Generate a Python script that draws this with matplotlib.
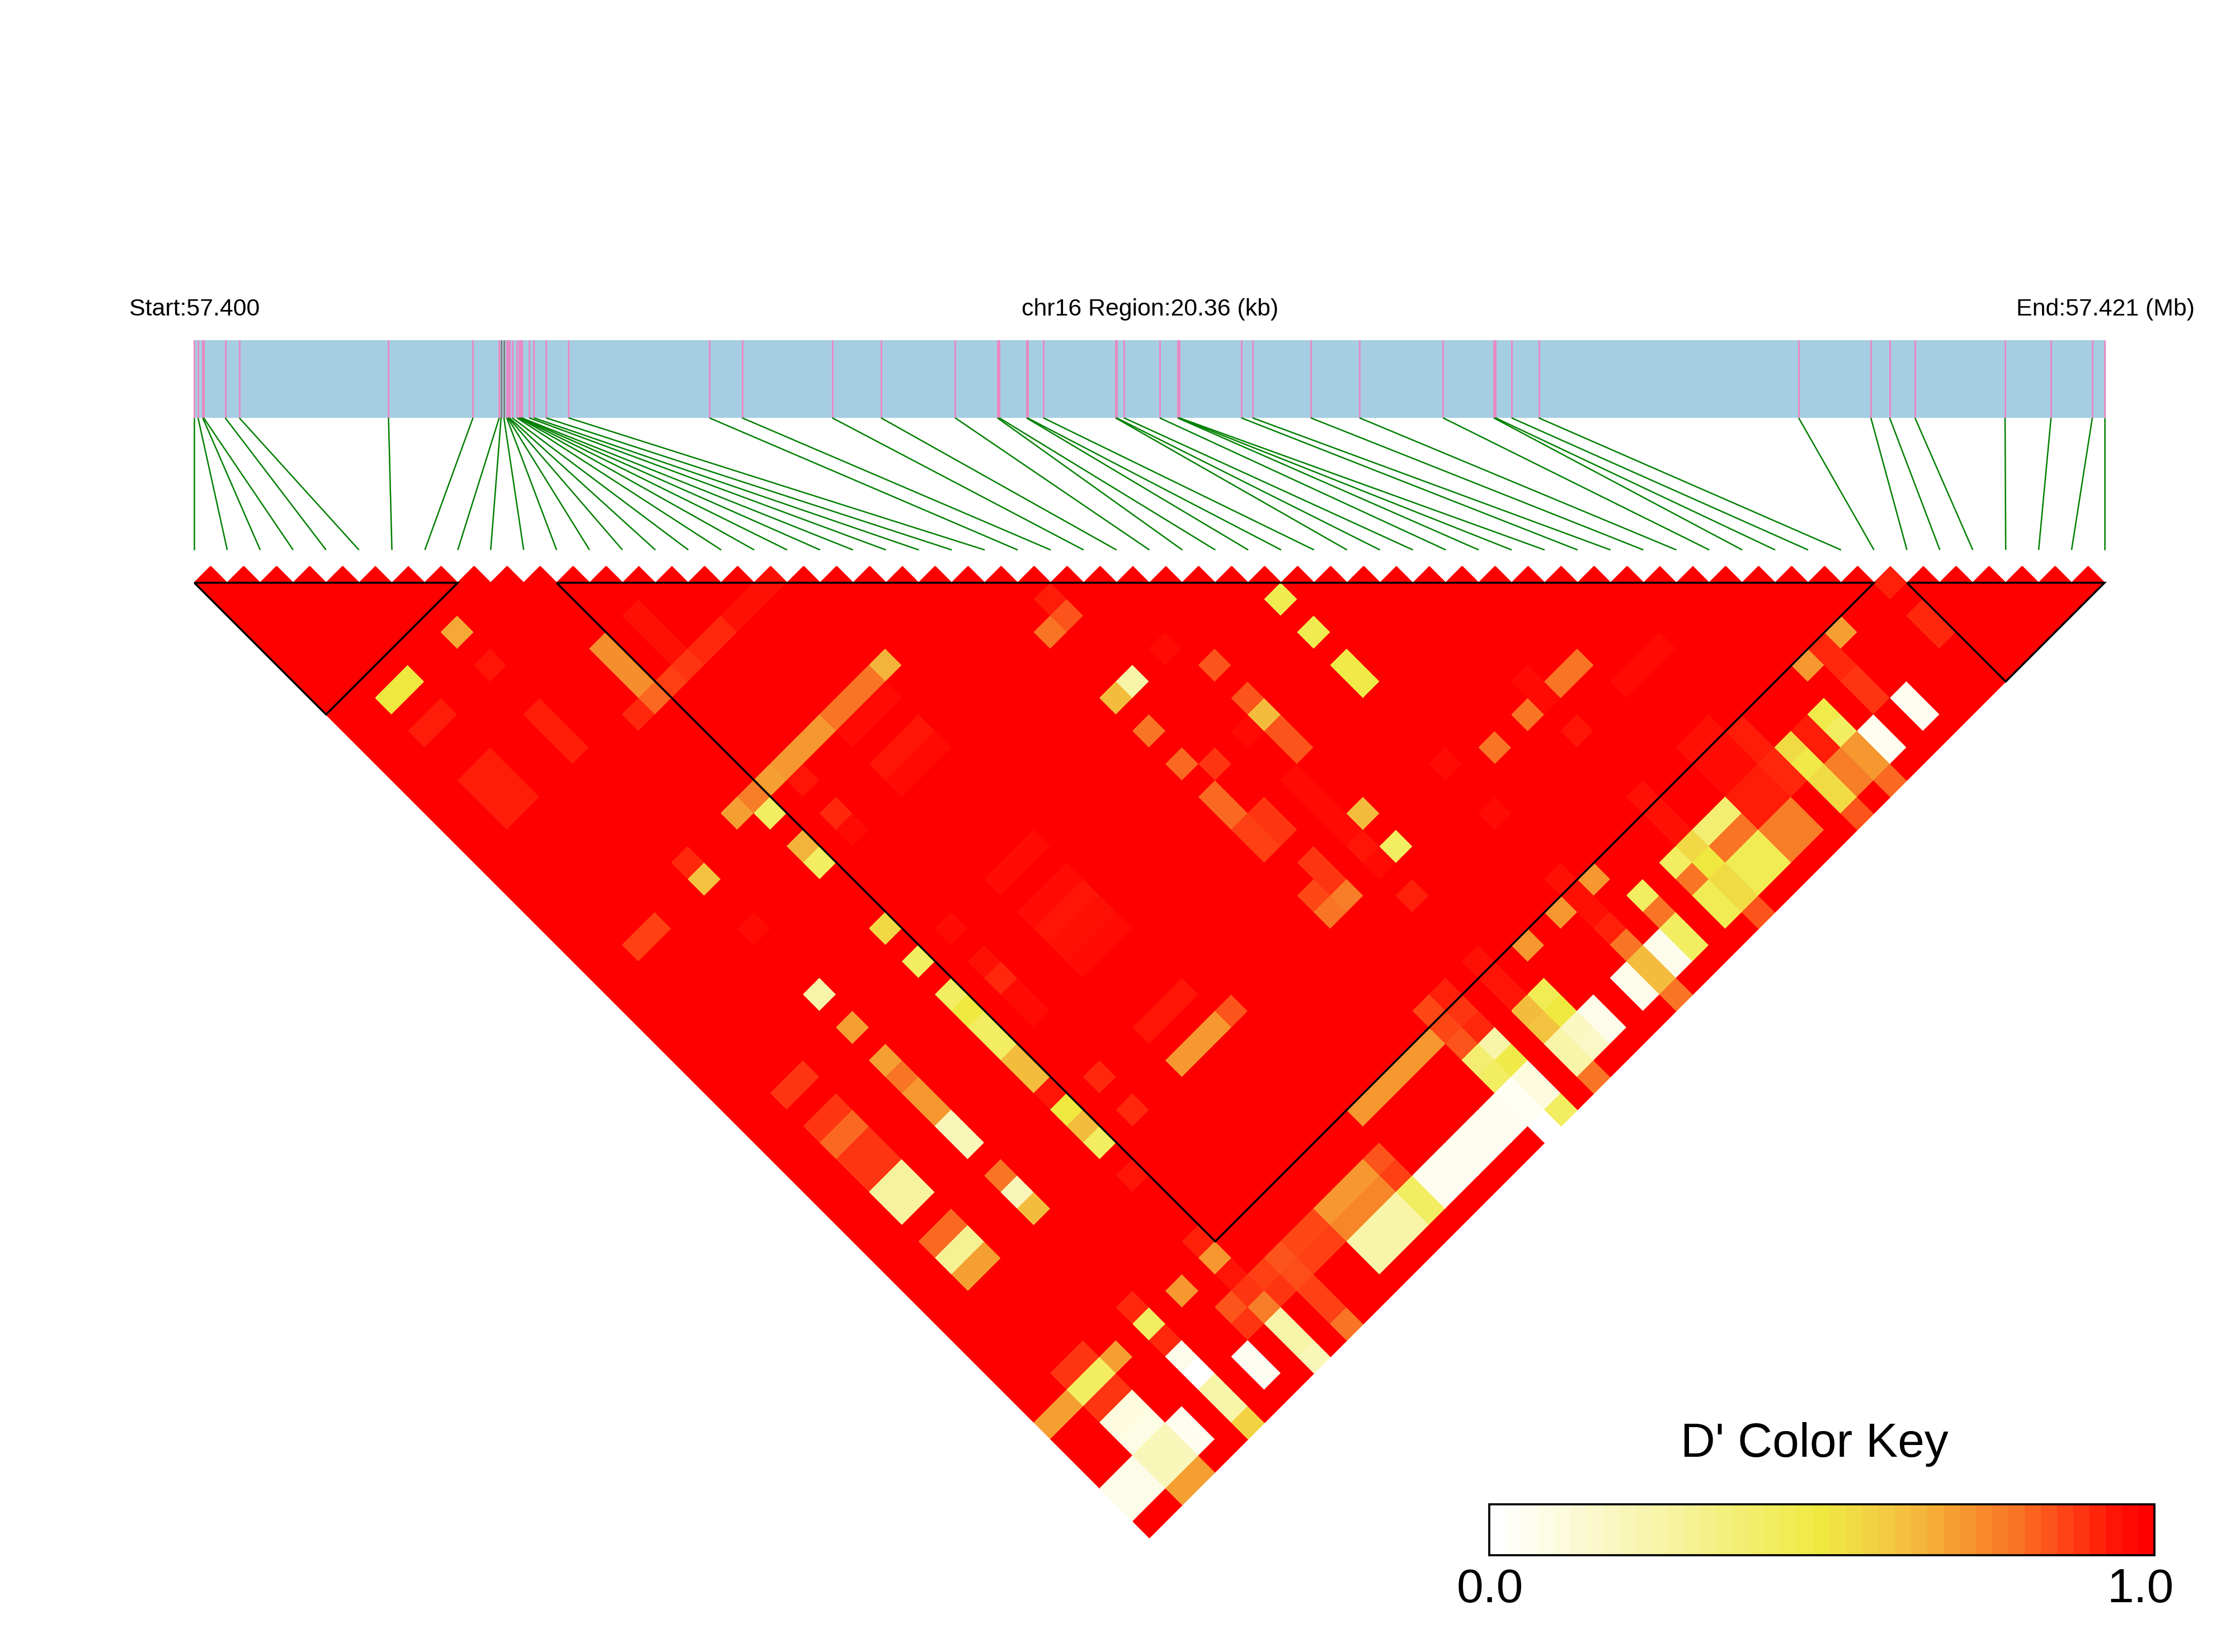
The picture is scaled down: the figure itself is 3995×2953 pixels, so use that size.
import numpy as np
import matplotlib
matplotlib.use("Agg")
import matplotlib.pyplot as plt
from matplotlib.collections import PolyCollection, LineCollection
from matplotlib.colors import LinearSegmentedColormap, ListedColormap
from matplotlib.patches import Rectangle

plt.rcParams['font.family'] = ['Liberation Sans', 'DejaVu Sans']

# SNP positions, kb from the region start
snp_kb = [0, 0.04, 0.09, 0.10, 0.33, 0.48, 2.07, 2.97, 3.25, 3.27, 3.30, 3.33, 3.34, 3.35, 3.36,
          3.39, 3.44, 3.46, 3.47, 3.48, 3.49, 3.57, 3.62, 3.75, 3.99, 5.49, 5.84, 6.80, 7.32, 8.11,
          8.56, 8.58, 8.87, 8.88, 9.05, 9.82, 9.83, 9.91, 10.29, 10.48, 10.49, 10.50, 11.16, 11.28,
          11.90, 12.42, 13.31, 13.85, 13.87, 14.04, 14.33, 17.10, 17.87, 18.07, 18.34, 19.30, 19.79,
          20.23, 20.36]
grey_snps = [9, 10]
ld_blocks = [(0, 8), (11, 51), (52, 58)]

# D' below 1: row index, then columns and values for that row
row_index = [0, 1, 2, 3, 4, 6, 8, 9, 10, 11, 12, 13, 14, 15, 16, 17, 18, 19, 20, 21, 22, 23, 24, 25, 27,
             28, 29, 31, 32, 33, 34, 36, 37, 38, 39, 40, 41, 42, 43, 44, 45, 46, 47, 48, 51]
row_cols = [
    [52, 56, 57],
    [52, 56, 57],
    [10, 12, 15, 16, 17, 25, 34, 36, 37, 38, 39, 40, 41, 43, 44, 45, 51, 52, 53, 54, 55, 56, 57, 58],
    [10, 12, 15, 16, 17, 25, 34, 36, 37, 38, 39, 40, 41, 43, 44, 45, 51, 52, 53, 54, 55, 56, 57, 58],
    [52, 56, 57],
    [10, 12, 15, 16, 17, 24, 25, 28, 32, 34, 36, 37, 38, 39, 40, 41, 43, 44, 45, 51, 52, 53, 54, 55, 56, 57, 58],
    [52, 56, 57],
    [18, 24, 54, 55],
    [15, 16, 17, 18, 24, 25, 27, 28, 32, 34, 36, 37, 38, 39, 40, 41, 42, 43, 44, 45, 47, 51, 52, 53, 54, 55, 56, 57, 58],
    [18, 24, 54, 55],
    [15, 16, 17, 18, 24, 25, 27, 28, 34, 36, 37, 38, 39, 43, 45, 54, 55, 56, 57, 58],
    [18, 24, 54, 55],
    [18, 24, 54, 55],
    [18, 24, 25, 27, 28, 34, 36, 37, 38, 39, 43, 45, 54, 55, 56, 57],
    [18, 24, 25, 27, 28, 34, 36, 37, 38, 39, 43, 45, 54, 55, 56, 57],
    [18, 24, 25, 27, 28, 34, 36, 37, 38, 39, 43, 45, 54, 55, 56, 57],
    [24, 45, 54, 55, 56, 57],
    [52, 56, 57],
    [52, 56, 57],
    [52, 56, 57],
    [52, 56, 57],
    [52, 56, 57],
    [28, 32, 34, 36, 38, 39, 40, 41, 44, 45, 51, 52, 53, 54, 55, 56, 57, 58],
    [27, 28, 32, 37, 40, 41, 43, 44, 45, 51, 52, 53, 54, 55, 56, 57, 58],
    [32, 37, 40, 41, 42, 43, 44, 45, 47, 51, 52, 53, 54, 55, 56, 57, 58],
    [34, 36, 37, 38, 39, 43, 45, 54, 55, 56, 57],
    [52, 56, 57],
    [52, 56, 57],
    [34, 36, 38, 39, 44, 47, 51, 52, 53, 54, 55, 56, 57, 58],
    [52, 56, 57],
    [45, 54, 55, 56, 57],
    [45, 54, 55, 56, 57],
    [44, 45, 47, 51, 52, 53, 54, 55, 56, 57, 58],
    [45, 54, 55, 56, 57],
    [45, 54, 55, 56, 57],
    [47, 51, 52, 53, 54, 55, 56, 57],
    [47, 51, 52, 53, 54, 55, 56, 57],
    [47, 52, 53, 54, 55],
    [54, 55, 56, 57, 58],
    [54, 55, 56, 57],
    [54, 55, 56, 57, 58],
    [52, 56, 57],
    [52, 53, 54, 55],
    [52, 56, 57],
    [52, 54, 55],
]
row_vals = [
    [.70, .07, .07],
    [.70, .07, .07],
    [.50, .94, .94, .94, .94, .88, .90, .90, .82, .90, .90, .28, .28, .82, .30, .70, .90, .42, .90, .10, .08, .20, .20, .70],
    [.50, .94, .94, .94, .94, .88, .90, .90, .82, .90, .90, .28, .28, .82, .30, .70, .90, .42, .90, .10, .08, .20, .20, .70],
    [.70, .05, .05],
    [.68, .95, .94, .94, .94, .92, .62, .97, .25, .70, .70, .80, .72, .72, .20, .20, .80, .20, .64, .92, .42, .92, .06, .00, .25, .25, .58],
    [.72, .04, .04],
    [.92, .70, .85, .90],
    [.74, .74, .74, .82, .78, .42, .66, .42, .56, .42, .42, .50, .42, .42, .64, .64, .95, .50, .64, .42, .95, .93, .72, .95, .90, .78, .25, .25, .20],
    [.88, .70, .88, .90],
    [.96, .96, .96, .90, .72, .95, .92, .97, .97, .96, .92, .97, .97, .92, .92, .85, .86, .88, .88, .80],
    [.92, .72, .87, .88],
    [.92, .72, .87, .88],
    [.96, .80, .97, .95, .97, .97, .97, .95, .96, .97, .95, .72, .72, .76, .25, .25],
    [.96, .80, .97, .95, .97, .97, .97, .95, .96, .97, .95, .72, .72, .76, .25, .25],
    [.96, .80, .97, .95, .97, .97, .97, .95, .96, .97, .95, .72, .72, .76, .25, .25],
    [.66, .85, .85, .88, .42, .42],
    [.72, .05, .05],
    [.72, .05, .05],
    [.72, .05, .05],
    [.72, .05, .05],
    [.72, .05, .05],
    [.80, .64, .80, .82, .82, .82, .88, .88, .87, .80, .87, .87, .85, .38, .42, .03, .03, .00],
    [.94, .85, .25, .90, .90, .90, .90, .90, .78, .93, .90, .92, .25, .48, .10, .10, .42],
    [.97, .97, .97, .97, .97, .97, .95, .97, .93, .96, .95, .95, .64, .62, .25, .25, .80],
    [.85, .85, .64, .85, .85, .64, .42, .45, .50, .18, .16],
    [.72, .06, .06],
    [.72, .06, .06],
    [.46, .46, .48, .48, .97, .97, .96, .96, .96, .93, .80, .64, .64, .80],
    [.72, .06, .06],
    [.80, .42, .80, .42, .42],
    [.80, .42, .80, .45, .45],
    [.97, .97, .95, .96, .96, .96, .56, .50, .55, .55, .85],
    [.80, .38, .80, .45, .45],
    [.80, .38, .80, .45, .45],
    [.97, .96, .97, .97, .94, .94, .78, .78],
    [.97, .96, .97, .97, .94, .94, .78, .78],
    [.97, .94, .94, .92, .92],
    [.55, .48, .55, .55, .85],
    [.94, .94, .78, .78],
    [.47, .42, .72, .72, .82],
    [.72, .05, .05],
    [.92, .92, .90, .90],
    [.70, .05, .05],
    [.93, .92, .92],
]

key_stops = [0, .25, .50, .56, .64, .70, .80, .90, .96, 1.0]
key_cols = ['#FFFFFF', '#F8F4A8', '#EFE93F', '#F2D845', '#F4BC3D', '#F5A033', '#F97525', '#FF3510', '#FF1005', '#FF0000']
key_levels = 41

W, H = 3995, 2953
fig = plt.figure(figsize=(W / 300, H / 300), dpi=300, facecolor='white')
ax = fig.add_axes([0, 0, 1, 1])
ax.set_xlim(0, W)
ax.set_ylim(H, 0)
ax.axis('off')

ramp = LinearSegmentedColormap.from_list('ld', list(zip(key_stops, key_cols)))
cmap = ListedColormap(ramp(np.linspace(0, 1, 256)))

n = len(snp_kb)
x0, step, y0 = 347.3, 58.87, 1041.7
half = step / 2
xs = x0 + np.arange(n) * step
kb = np.array(snp_kb)
gene_x = x0 + kb / 20.36 * (n - 1) * step

D = np.ones((n, n))
for r, cols, vals in zip(row_index, row_cols, row_vals):
    for c, v in zip(cols, vals):
        D[r, c] = v

polys, colours = [], []
for i in range(n - 1):
    for j in range(i + 1, n):
        cx = x0 + (i + j) * half
        cy = y0 + (j - i - 1) * half
        polys.append([(cx - half, cy), (cx, cy - half), (cx + half, cy), (cx, cy + half)])
        colours.append(D[i, j])
pc = PolyCollection(polys, array=np.array(colours), cmap=cmap, norm=plt.Normalize(0, 1),
                    edgecolors='face', linewidths=0.05, antialiased=False, zorder=2)
ax.add_collection(pc)

# LD blocks
for p, q in ld_blocks:
    xl, xr = x0 + p * step, x0 + q * step
    ax.plot([xl, xr, (xl + xr) / 2, xl], [y0, y0, y0 + (q - p) * half, y0],
            color='black', lw=0.85, zorder=3, solid_joinstyle='miter', solid_capstyle='butt')

# gene bar
bar_top, bar_bot, link_bot = 607.5, 747, 983
ax.add_patch(Rectangle((gene_x[0], bar_top), gene_x[-1] - gene_x[0], bar_bot - bar_top,
                       facecolor='#A6CEE3', edgecolor='none', zorder=1))
tick_cols = ['#808080' if k in grey_snps else '#E78AC3' for k in range(n)]
ax.vlines(gene_x, bar_top, bar_bot, colors=tick_cols, lw=0.72, zorder=2)
links = [[(g, bar_bot), (x, link_bot)] for g, x in zip(gene_x, xs)]
ax.add_collection(LineCollection(links, colors='#008000', linewidths=0.6, zorder=2))

ax.text(348, 553, 'Start:57.400', fontsize=10.3, ha='center', va='center')
ax.text(2056, 553, 'chr16 Region:20.36 (kb)', fontsize=10.3, ha='center', va='center')
ax.text(3763, 553, 'End:57.421 (Mb)', fontsize=10.3, ha='center', va='center')

# colour key
kx0, kx1, ky0, ky1 = 2662, 3851, 2689, 2780
edges = np.linspace(kx0, kx1, key_levels + 1)
ax.pcolormesh(edges, [ky0, ky1], np.linspace(0, 1, key_levels)[None, :], cmap=cmap,
              vmin=0, vmax=1, zorder=2)
ax.add_patch(Rectangle((kx0, ky0), kx1 - kx0, ky1 - ky0, fill=False, edgecolor='black', lw=0.9, zorder=3))
ax.text(3243, 2604, "D' Color Key", fontsize=20.6, ha='center', va='baseline')
ax.text(2663, 2864, '0.0', fontsize=20.6, ha='center', va='baseline')
ax.text(3826, 2864, '1.0', fontsize=20.6, ha='center', va='baseline')

ax.set_xlim(0, W)
ax.set_ylim(H, 0)
fig.savefig('out.png', dpi=300, facecolor='white')
